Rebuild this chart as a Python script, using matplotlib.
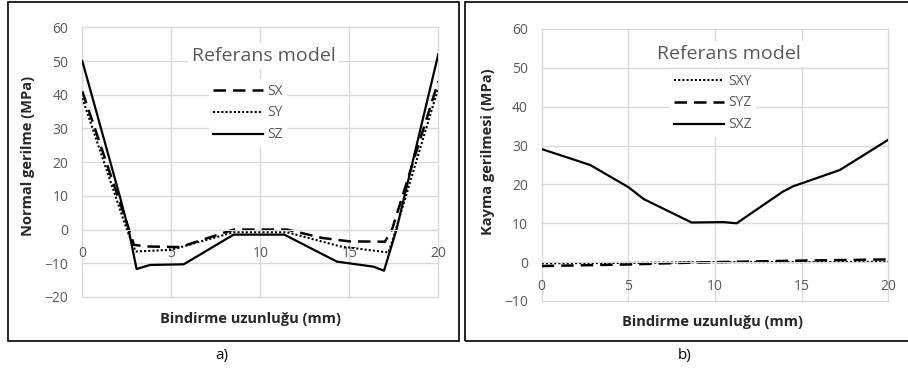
import matplotlib
matplotlib.use("Agg")
import matplotlib.pyplot as plt
from matplotlib.patches import Rectangle

plt.rcParams['font.family'] = ['Open Sans', 'DejaVu Sans']

# a) normal stresses
sz_x = [0, 2.1, 2.6, 3.05, 3.8, 5.7, 8.5, 11.35, 14.3, 16.35, 16.95, 17.65, 20]
sz_y = [50, 10, 0, -11.7, -10.5, -10.3, -1.5, -1.5, -9.5, -11, -12.2, 0, 52]
sx_x = [0, 2.5, 2.9, 3.5, 5.5, 8.5, 11.5, 13.5, 15, 17, 17.4, 20]
sx_y = [41, 2, -4.5, -5, -5.2, 0, 0, -2.5, -3.5, -3.6, 0, 44]
sy_x = [0, 2.5, 3.0, 5.0, 8.5, 11.5, 14.5, 17.2, 17.5, 20]
sy_y = [39, 0, -6.5, -6, -0.8, -0.8, -5, -6.8, -2, 42]

# b) shear stresses
sxz_x = [0, 2.8, 5.0, 5.9, 8.65, 10.5, 11.25, 13.9, 14.5, 17.2, 20]
sxz_y = [29.1, 25.0, 19.3, 16.2, 10.2, 10.3, 10.0, 18.1, 19.5, 23.7, 31.5]
syz_x = [0, 5, 8, 10, 15, 20]
syz_y = [-1, -0.6, -0.2, 0, 0.4, 0.7]
sxy_x = [0, 5, 10, 15, 20]
sxy_y = [-0.3, -0.2, 0, 0, 0.1]

W, H = 908, 371
fig = plt.figure(figsize=(W / 100, H / 100), dpi=100)

grid_c = '#d9d9d9'
tick_c = '#595959'
dash = (0, (5, 2.8))
dots = (0, (1, 1))


def fx(px):
    return px / W


def fy(py):
    return 1 - py / H


def style_axes(ax, ymin, ymax):
    ax.set_xlim(0, 20)
    ax.set_ylim(ymin, ymax)
    ax.set_xticks([0, 5, 10, 15, 20])
    ax.set_yticks(range(ymin, ymax + 1, 10))
    for s in ['top', 'right', 'left']:
        ax.spines[s].set_visible(False)
    ax.spines['bottom'].set_position(('data', 0))
    ax.spines['bottom'].set_color(grid_c)
    ax.grid(True, color=grid_c, lw=1)
    ax.set_axisbelow(True)
    ax.tick_params(length=0, labelsize=10, labelcolor=tick_c)
    ax.tick_params(axis='x', pad=12)
    ax.tick_params(axis='y', pad=10)
    for gl in ax.get_xgridlines() + ax.get_ygridlines():
        gl.set_clip_on(False)


def white_legend(ax, cx, cy):
    leg = ax.legend(loc='center', bbox_to_anchor=(fx(cx), fy(cy)), bbox_transform=fig.transFigure,
                    frameon=True, fontsize=10, handlelength=3.6, handletextpad=0.3,
                    labelspacing=0.5, borderpad=0.3, fancybox=False)
    leg.get_frame().set_edgecolor('none')
    leg.get_frame().set_facecolor('white')
    leg.get_frame().set_alpha(1)
    for t in leg.get_texts():
        t.set_color(tick_c)


# left panel
ax1 = fig.add_axes([fx(82.3), fy(297), fx(438.3 - 82.3), (297 - 27.3) / H])
style_axes(ax1, -20, 60)
ax1.plot(sx_x, sx_y, color='black', lw=1.8, ls=dash, label='SX')
ax1.plot(sy_x, sy_y, color='black', lw=1.5, ls=dots, label='SY')
ax1.plot(sz_x, sz_y, color='black', lw=1.6, label='SZ')
fig.text(fx(263.5), fy(56), 'Referans model', fontsize=14, color=tick_c, ha='center', va='center',
         bbox=dict(facecolor='white', edgecolor='none', pad=3))
white_legend(ax1, 248, 113)

# right panel
ax2 = fig.add_axes([fx(541.7), fy(301), fx(888.3 - 541.7), (301 - 29) / H])
style_axes(ax2, -10, 60)
ax2.plot(sxy_x, sxy_y, color='black', lw=1.5, ls=dots, label='SXY')
ax2.plot(syz_x, syz_y, color='black', lw=1.8, ls=dash, label='SYZ')
ax2.plot(sxz_x, sxz_y, color='black', lw=1.6, label='SXZ')
fig.text(fx(728.5), fy(54.3), 'Referans model', fontsize=14, color=tick_c, ha='center', va='center',
         bbox=dict(facecolor='white', edgecolor='none', pad=3))
white_legend(ax2, 713, 103)

# axis titles
fig.text(fx(250.5), fy(318.5), 'Bindirme uzunluğu (mm)', fontsize=10.5, fontweight='bold',
         ha='center', va='center', color='#262626')
fig.text(fx(713), fy(322), 'Bindirme uzunluğu (mm)', fontsize=10.5, fontweight='bold',
         ha='center', va='center', color='#262626')
fig.text(fx(28.3), fy(156), 'Normal gerilme (MPa)', fontsize=10.5, fontweight='bold',
         rotation=90, ha='center', va='center', color='#262626')
fig.text(fx(487.7), fy(152), 'Kayma gerilmesi (MPa)', fontsize=10.5, fontweight='bold',
         rotation=90, ha='center', va='center', color='#262626')

# captions
fig.text(fx(221.7), fy(356), 'a)', fontsize=11, ha='center', va='center')
fig.text(fx(685), fy(356), 'b)', fontsize=11, ha='center', va='center')

# panel frames
fig.patches.append(Rectangle((fx(7.5), fy(340.5)), fx(459.3 - 7.5), (340.5 - 2) / H,
                             transform=fig.transFigure, fill=False, ec='black', lw=1.2))
fig.patches.append(Rectangle((fx(465.3), fy(340.5)), fx(910 - 465.3), (340.5 - 1.5) / H,
                             transform=fig.transFigure, fill=False, ec='black', lw=1.2))

fig.savefig('out.png', dpi=100)
